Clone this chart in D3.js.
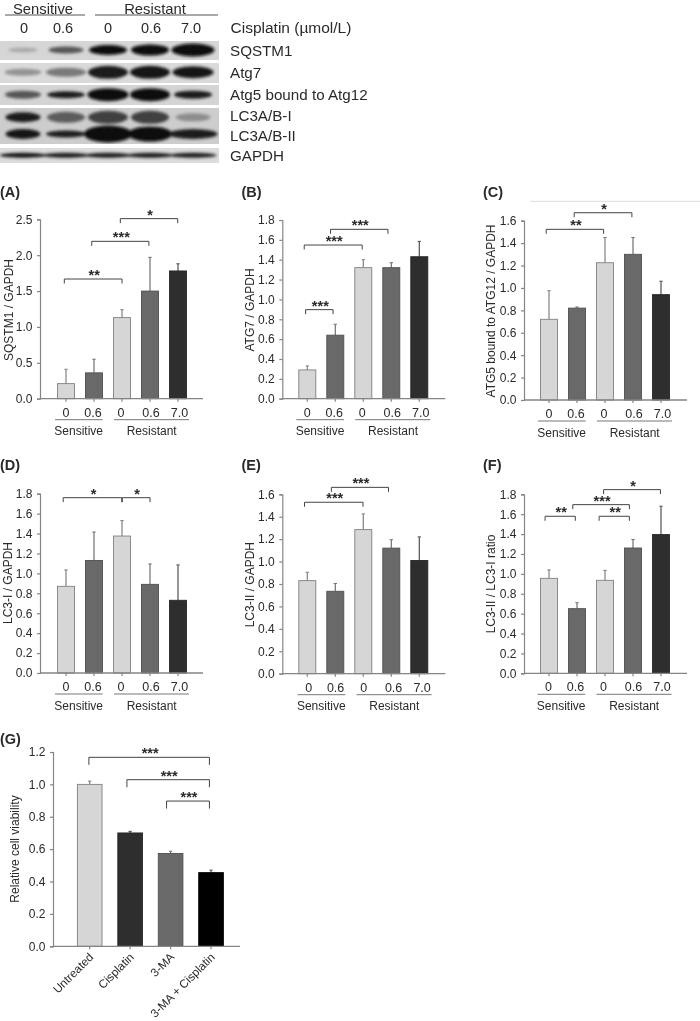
<!DOCTYPE html>
<html><head><meta charset="utf-8">
<script src="https://cdn.jsdelivr.net/npm/d3@7"></script>
<style>
html,body{margin:0;padding:0;background:#fff}
svg{display:block}
text{font-family:"Liberation Sans",Arial,sans-serif;fill:#2a2a2a}
</style></head><body><svg id="c" width="700" height="1021"></svg>
<script>
// ---- data ----
const cisplatinDoses = ["0","0.6","0","0.6","7.0"];
const cellGroups = ["Sensitive","Resistant"];
const viabilityGroups = ["Untreated","Cisplatin","3-MA","3-MA + Cisplatin"];
const blotLabels = ["SQSTM1","Atg7","Atg5 bound to Atg12","LC3A/B-I","LC3A/B-II","GAPDH"];

const sqstm1Means = [0.21,0.36,1.13,1.50,1.78];
const sqstm1Upper = [0.41,0.55,1.24,1.97,1.88];
const atg7Means = [0.29,0.64,1.32,1.32,1.43];
const atg7Upper = [0.33,0.75,1.40,1.37,1.585];
const atg5Means = [0.72,0.82,1.225,1.30,0.94];
const atg5Upper = [0.975,0.83,1.45,1.45,1.06];
const lc3iMeans = [0.87,1.13,1.375,0.89,0.73];
const lc3iUpper = [1.035,1.415,1.53,1.095,1.085];
const lc3iiMeans = [0.83,0.735,1.285,1.12,1.01];
const lc3iiUpper = [0.905,0.805,1.425,1.195,1.22];
const ratioMeans = [0.955,0.65,0.935,1.26,1.395];
const ratioUpper = [1.04,0.71,1.035,1.345,1.68];
const viabilityMeans = [1.0,0.70,0.573,0.455];
const viabilityUpper = [1.02,0.71,0.587,0.47];

// significance brackets: [from bar, to bar, height in axis units, stars]
const sqstm1Sig = [[-0.06,2,1.668,"**"],[0.92,2.96,2.193,"***"],[1.94,3.99,2.509,"*"]];
const atg7Sig = [[-0.06,0.92,0.897,"***"],[-0.11,1.96,1.548,"***"],[0.83,2.88,1.706,"***"]];
const atg5Sig = [[-0.1,1.95,1.523,"**"],[0.9,2.96,1.671,"*"]];
const lc3iSig = [[-0.1,1.99,1.76,"*"],[2.01,3,1.76,"*"]];
const lc3iiSig = [[-0.1,1.99,1.529,"***"],[0.86,2.9,1.662,"***"]];
const ratioSig = [[-0.14,0.94,1.579,"**"],[0.85,2.87,1.696,"***"],[1.79,2.87,1.579,"**"],[1.95,3.98,1.847,"*"]];
const viabilitySig = [[-0.02,2.96,1.167,"***"],[0.92,2.96,1.029,"***"],[1.9,2.96,0.897,"***"]];

// band darkness per lane, one list per blot row
const sqstm1Bands = [0.16,0.6,1,1,1];
const atg7Bands = [0.28,0.42,0.92,0.95,0.97];
const atg5Bands = [0.6,0.92,1,1,0.92];
const lc3iBands = [0.92,0.58,0.72,0.72,0.32];
const lc3iiBands = [0.97,0.92,1,1,0.92];
const gapdhBands = [0.97,0.92,0.92,0.92,0.9];

// ---- styles ----
const fillLight="#d6d6d6", fillMid="#696969", fillDark="#2e2e2e", fillBlack="#000";
const strokeOf = {[fillLight]:"#808080",[fillMid]:"#505050",[fillDark]:"#262626",[fillBlack]:"#000"};
const errOf = {[fillLight]:"#808080",[fillMid]:"#707070",[fillDark]:"#505050",[fillBlack]:"#505050"};
const axisGrey="#858585", bracketInk="#444";

const svg=d3.select("#c");
const defs=svg.append("defs");
defs.append("filter").attr("id","soft").attr("x","-2%").attr("y","-2%").attr("width","104%").attr("height","104%")
  .append("feGaussianBlur").attr("stdDeviation",0.3);
defs.append("filter").attr("id","bandBlur").attr("x","-30%").attr("y","-60%").attr("width","160%").attr("height","220%")
  .append("feGaussianBlur").attr("stdDeviation",1.4);
const clip=defs.append("clipPath").attr("id","blotClip");
const root=svg.append("g").attr("filter","url(#soft)");

// ---- western blot header ----
const laneCx=[23,66,108,150,193];
const ink=d3.scaleLinear().domain([0,1]).range(["#c8c8c8","#0c0c0c"]);
const blotPanels=[
 {y:41,h:19,bg:"#d6d6d6"},{y:63,h:20,bg:"#dadada"},{y:85,h:20,bg:"#d4d4d4"},
 {y:108,h:36,bg:"#cdcdcd"},{y:148,h:15,bg:"#dcdcdc"}];
const blotRows=[
 {v:sqstm1Bands,cy:50,w:[29,35,38,38,43],h:[5,7,10,11,13]},
 {v:atg7Bands,cy:72.3,w:[37,40,40,40,41],h:[7,9,13,13,12]},
 {v:atg5Bands,cy:94.7,w:[36,38,41,40,38],h:[8,7,13,13,8]},
 {v:lc3iBands,cy:117.3,w:[35,38,40,38,35],h:[10,11,13,13,8]},
 {v:lc3iiBands,cy:134,w:[35,40,48,45,49],h:[10,7,17,15,10]},
 {v:gapdhBands,cy:155.3,w:[47,47,47,47,47],h:[5,5,5,5,5]}];
blotPanels.forEach(p=>clip.append("rect").attr("x",0).attr("y",p.y).attr("width",219).attr("height",p.h));
root.append("g").selectAll("rect").data(blotPanels).join("rect")
  .attr("x",0).attr("y",d=>d.y).attr("width",219).attr("height",d=>d.h).attr("fill",d=>d.bg);
const bandG=root.append("g").attr("clip-path","url(#blotClip)").append("g").attr("filter","url(#bandBlur)");
blotRows.forEach(r=>{
  bandG.selectAll(null).data(r.v).join("ellipse")
    .attr("cx",(d,i)=>laneCx[i]).attr("cy",r.cy)
    .attr("rx",(d,i)=>r.w[i]/2).attr("ry",(d,i)=>r.h[i]/2)
    .attr("fill",d=>ink(d));
});
const blotY=[51,73,95,116,136,156];
root.append("g").selectAll("text").data(blotLabels).join("text")
  .attr("x",230).attr("y",(d,i)=>blotY[i]).attr("dy","0.36em").attr("font-size",15.2).text(d=>d);
root.append("text").attr("x",230.5).attr("y",27).attr("dy","0.36em").attr("font-size",15.5).text("Cisplatin (µmol/L)");
const headX=[24,63,108,151,191];
root.append("g").selectAll("text").data(cisplatinDoses).join("text")
  .attr("x",(d,i)=>headX[i]).attr("y",28).attr("dy","0.36em").attr("text-anchor","middle").attr("font-size",14.5).text(d=>d);
[[5,85,43],[95,218,155]].forEach((s,i)=>{
  root.append("line").attr("x1",s[0]).attr("x2",s[1]).attr("y1",15).attr("y2",15).attr("stroke","#555").attr("stroke-width",1);
  root.append("text").attr("x",s[2]).attr("y",13.6).attr("text-anchor","middle").attr("font-size",14.8).text(cellGroups[i]);
});

// ---- bar panels ----
const fiveFills=[fillLight,fillMid,fillLight,fillMid,fillDark];
const panels=[
 {tag:"(A)",tx:0,ty:192,means:sqstm1Means,upper:sqstm1Upper,sig:sqstm1Sig,title:"SQSTM1 / GAPDH",titleX:8.5,titleY:310,
  ax:40,top:219.3,base:398.7,max:2.5,step:0.5,c0:66,shift:0},
 {tag:"(B)",tx:241.5,ty:192,means:atg7Means,upper:atg7Upper,sig:atg7Sig,title:"ATG7 / GAPDH",titleX:250,titleY:310,
  ax:282.3,top:220,base:398.7,max:1.8,step:0.2,c0:307.3,shift:0},
 {tag:"(C)",tx:483,ty:192,means:atg5Means,upper:atg5Upper,sig:atg5Sig,title:"ATG5 bound to ATG12 / GAPDH",titleX:490.7,titleY:311,
  ax:524,top:220.7,base:400,max:1.6,step:0.2,c0:549,shift:0},
 {tag:"(D)",tx:0,ty:465,means:lc3iMeans,upper:lc3iUpper,sig:lc3iSig,title:"LC3-I / GAPDH",titleX:8,titleY:583,
  ax:40,top:493.7,base:673,max:1.8,step:0.2,c0:66,shift:0},
 {tag:"(E)",tx:241.5,ty:465,means:lc3iiMeans,upper:lc3iiUpper,sig:lc3iiSig,title:"LC3-II / GAPDH",titleX:249.5,titleY:584.7,
  ax:282.3,top:494.3,base:673.7,max:1.6,step:0.2,c0:307.3,shift:1.3},
 {tag:"(F)",tx:483,ty:465,means:ratioMeans,upper:ratioUpper,sig:ratioSig,title:"LC3-II / LC3-I ratio",titleX:490.7,titleY:584,
  ax:524,top:494.3,base:673.3,max:1.8,step:0.2,c0:549,shift:-0.5}
];

function drawAxes(g,p,x,y,right){
  const yAxis=d3.axisLeft(y).tickValues(d3.range(0,p.max+1e-6,p.step)).tickFormat(d3.format(".1f")).tickSize(3).tickPadding(4.5);
  const ya=g.append("g").attr("transform",`translate(${p.ax},0)`).call(yAxis);
  ya.selectAll("path,line").attr("stroke",axisGrey).attr("stroke-width",1.2);
  ya.selectAll("text").attr("font-size",12).attr("font-family",'"Liberation Sans",Arial,sans-serif').attr("fill","#2a2a2a");
  g.append("line").attr("x1",p.ax).attr("x2",right).attr("y1",p.base).attr("y2",p.base).attr("stroke",axisGrey).attr("stroke-width",1.3);
}
function drawBars(g,p,x,y,fills){
  const bw=x.bandwidth();
  g.append("g").selectAll("line").data(p.upper).join("line")
    .attr("x1",(d,i)=>x(i)+bw/2).attr("x2",(d,i)=>x(i)+bw/2)
    .attr("y1",d=>y(d)).attr("y2",(d,i)=>y(p.means[i]))
    .attr("stroke",(d,i)=>errOf[fills[i]]).attr("stroke-width",1.2);
  g.append("g").selectAll("line").data(p.upper).join("line")
    .attr("x1",(d,i)=>x(i)+bw/2-1.7).attr("x2",(d,i)=>x(i)+bw/2+1.7)
    .attr("y1",d=>y(d)).attr("y2",d=>y(d))
    .attr("stroke",(d,i)=>errOf[fills[i]]).attr("stroke-width",1);
  g.append("g").selectAll("rect").data(p.means).join("rect")
    .attr("x",(d,i)=>x(i)).attr("width",bw)
    .attr("y",d=>y(d)).attr("height",d=>y(0)-y(d))
    .attr("fill",(d,i)=>fills[i]).attr("stroke",(d,i)=>strokeOf[fills[i]]).attr("stroke-width",0.9);
}
function drawSig(g,p,x,y,drop){
  const bw=x.bandwidth(), at=f=>x(0)+bw/2+f*x.step();
  p.sig.forEach(([a,b,v,stars])=>{
    const yy=y(v);
    g.append("path").attr("fill","none").attr("stroke",bracketInk).attr("stroke-width",1)
      .attr("d",d3.line()([[at(a),yy+drop],[at(a),yy],[at(b),yy],[at(b),yy+drop]]));
    g.append("text").attr("x",(at(a)+at(b))/2+1).attr("y",yy+1).attr("text-anchor","middle")
      .attr("font-size",14.5).attr("font-weight","bold").attr("fill","#333").text(stars);
  });
}
function yTitle(g,p){
  g.append("text").attr("transform",`translate(${p.titleX},${p.titleY}) rotate(-90)`)
    .attr("dy","0.36em").attr("text-anchor","middle").attr("font-size",12).text(p.title);
}
function tag(g,p){
  g.append("text").attr("x",p.tx).attr("y",p.ty).attr("dy","0.36em").attr("font-size",14.5).attr("font-weight","bold").attr("fill","#111").text(p.tag);
}
const doseNudge=[0,-1,-1,1,1.5];
panels.forEach(p=>{
  const g=root.append("g");
  const x=d3.scaleBand().domain(d3.range(5)).range([p.c0-14,p.c0+126]).paddingInner(11/28).paddingOuter(11/56);
  const y=d3.scaleLinear().domain([0,p.max]).range([p.base,p.top]);
  tag(g,p); yTitle(g,p);
  drawBars(g,p,x,y,fiveFills);
  drawAxes(g,p,x,y,p.ax+163);
  const xa=g.append("g").attr("transform",`translate(0,${p.base})`)
    .call(d3.axisBottom(x).tickSize(3).tickSizeOuter(0).tickPadding(5).tickFormat(i=>cisplatinDoses[i]));
  xa.select(".domain").remove();
  xa.selectAll("line").attr("stroke",axisGrey).attr("stroke-width",1.2);
  xa.selectAll("text").attr("font-size",12.5).attr("font-family",'"Liberation Sans",Arial,sans-serif').attr("fill","#2a2a2a")
    .attr("dx",i=>doseNudge[i]+p.shift).attr("y",9.3);
  drawSig(g,p,x,y,4.5);
  [[-11,36.7,12.7],[48,123,85.7]].forEach((s,i)=>{
    g.append("line").attr("x1",p.c0+s[0]+p.shift).attr("x2",p.c0+s[1]+p.shift).attr("y1",p.base+21).attr("y2",p.base+21).attr("stroke","#777").attr("stroke-width",1);
    g.append("text").attr("x",p.c0+s[2]+p.shift).attr("y",p.base+32.3).attr("dy","0.36em").attr("text-anchor","middle").attr("font-size",12).text(cellGroups[i]);
  });
});

// stray hairline above panel C
root.append("line").attr("x1",530).attr("x2",700).attr("y1",201.3).attr("y2",201.3).attr("stroke","#ddd").attr("stroke-width",1);

// ---- panel G ----
(function(){
  const p={tag:"(G)",tx:0,ty:739,means:viabilityMeans,upper:viabilityUpper,sig:viabilitySig,title:"Relative cell viability",titleX:15,titleY:849,
    ax:53,top:752,base:946.3,max:1.2,step:0.2};
  const g=root.append("g");
  const st=40.45;
  const x=d3.scaleBand().domain(d3.range(4)).range([89.7-st/2,89.7-st/2+4*st]).paddingInner(15.8/st).paddingOuter(15.8/st/2);
  const y=d3.scaleLinear().domain([0,p.max]).range([p.base,p.top]);
  tag(g,p); yTitle(g,p);
  drawBars(g,p,x,y,[fillLight,fillDark,fillMid,fillBlack]);
  drawAxes(g,p,x,y,240);
  const xa=g.append("g").attr("transform",`translate(0,${p.base})`)
    .call(d3.axisBottom(x).tickSize(3).tickSizeOuter(0).tickFormat(i=>viabilityGroups[i]));
  xa.select(".domain").remove();
  xa.selectAll("line").attr("stroke",axisGrey).attr("stroke-width",1.2);
  xa.selectAll("text").attr("font-size",11.7).attr("font-family",'"Liberation Sans",Arial,sans-serif').attr("fill","#2a2a2a")
    .attr("text-anchor","end").attr("dy",0).attr("y",0)
    .attr("transform","translate(4.5,11.5) rotate(-45)");
  drawSig(g,p,x,y,7.5);
})();
</script></body></html>
